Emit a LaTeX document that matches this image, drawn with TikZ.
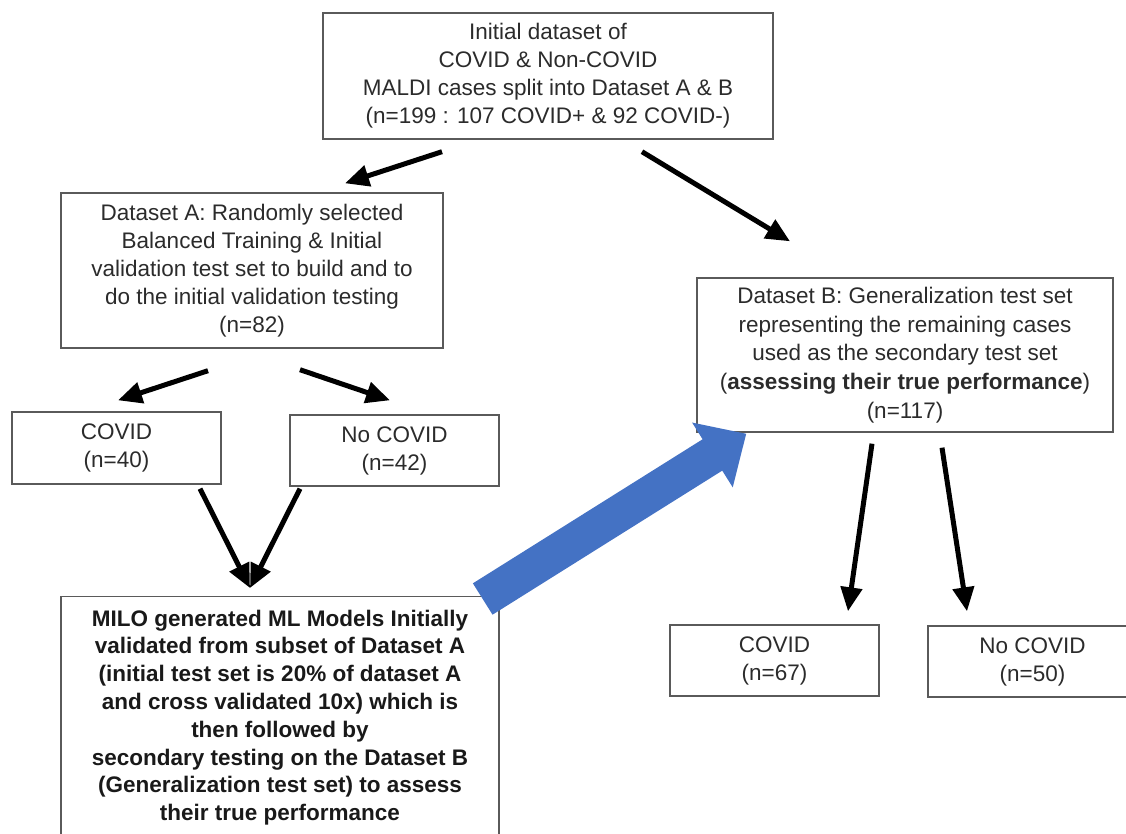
\documentclass[tikz,border=0pt]{standalone}
\usepackage{fontspec}
\setmainfont{Liberation Sans}
\usetikzlibrary{arrows.meta}
\definecolor{boxline}{HTML}{5A5A5A}
\definecolor{txt}{HTML}{2B2B2B}
\definecolor{bigblue}{HTML}{4472C4}

\begin{document}
\begin{tikzpicture}[x=1pt, y=-1pt,
    every node/.style={font=\fontsize{22.5}{28}\selectfont, text=txt},
    box/.style={draw=boxline, line width=1.4pt, align=center, inner sep=0pt},
    arr/.style={line width=5pt, -{Triangle[length=24pt, width=21pt]}},
    bigarr/.style={line width=37pt, draw=bigblue, -{Triangle[length=40pt, width=74pt]}}
]
\useasboundingbox (0,0) rectangle (1126,833);

% initial dataset
\node[box, minimum width=450pt, minimum height=126pt] (init) at (548,76)
    {Initial dataset of\\COVID \& Non-COVID\\MALDI cases split into Dataset A \& B\\(n=199 : 107 COVID+ \& 92 COVID-)};

% dataset A
\node[box, minimum width=382pt, minimum height=155pt] (dsA) at (252,270.5)
    {Dataset A: Randomly selected\\Balanced Training \& Initial\\validation test set to build and to\\do the initial validation testing\\(n=82)};
\node[box, minimum width=209pt, minimum height=72pt] (covA) at (116.5,448) {COVID\\(n=40)};
\node[box, minimum width=209pt, minimum height=71pt] (nocovA) at (394.5,450.5) {No COVID\\(n=42)};

% models
\node[box, anchor=north, minimum width=438pt, inner ysep=13pt, font=\fontsize{22.5}{27.8}\selectfont\bfseries, text=black!90] (milo) at (280,596)
    {MILO generated ML Models Initially\\validated from subset of Dataset A\\(initial test set is 20\% of dataset A\\and cross validated 10x) which is\\then followed by\\secondary testing on the Dataset B\\(Generalization test set) to assess\\their true performance};

% dataset B
\node[box, minimum width=416pt, minimum height=154pt, font=\fontsize{22.5}{28.6}\selectfont] (dsB) at (905,355)
    {Dataset B: Generalization test set\\representing the remaining cases\\used as the secondary test set\\(\textbf{assessing their true performance})\\(n=117)};
\node[box, minimum width=209pt, minimum height=71pt] (covB) at (774.5,660.5) {COVID\\(n=67)};
\node[box, minimum width=209pt, minimum height=71pt] (nocovB) at (1032.5,661.5) {No COVID\\(n=50)};

% arrows
\draw[arr] ([shift={(-106,12)}]init.south) -- ([shift={(93,-9)}]dsA.north);
\draw[arr] ([shift={(94,12)}]init.south) -- ([shift={(-115,-36)}]dsB.north);
\draw[arr] ([shift={(-44,22)}]dsA.south) -- ([shift={(1.5,-11)}]covA.north);
\draw[arr] ([shift={(48,21)}]dsA.south) -- ([shift={(-4.5,-14)}]nocovA.north);
\draw[arr] ([shift={(83.5,4)}]covA.south) -- ([shift={(-30,-8)}]milo.north);
\draw[arr] ([shift={(-94.5,2)}]nocovA.south) -- ([shift={(-30,-8)}]milo.north);
\draw[arr] ([shift={(-33,11)}]dsB.south) -- ([shift={(73.5,-13)}]covB.north);
\draw[arr] ([shift={(37,15)}]dsB.south) -- ([shift={(-65.5,-14)}]nocovB.north);

% big blue arrow
\draw[bigarr] ([shift={(-17,3)}]milo.north east) -- ([shift={(50,1)}]dsB.south west);

\end{tikzpicture}
\end{document}
